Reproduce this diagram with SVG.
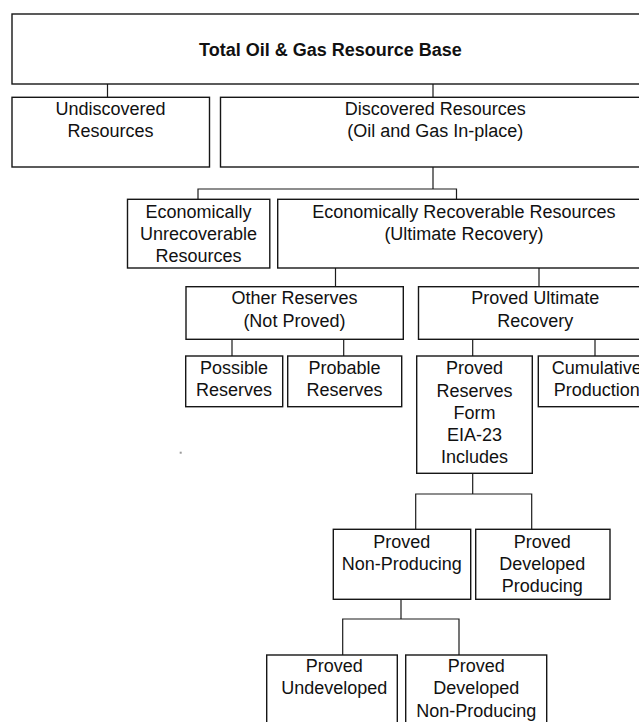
<svg xmlns="http://www.w3.org/2000/svg" width="639" height="722" viewBox="0 0 639 722">
<style>
.box{fill:#fff;stroke:#161616;stroke-width:1.4}
.c{fill:none;stroke:#1c1c1c;stroke-width:1.2}
text{font-family:"Liberation Sans",Arial,sans-serif;font-size:18px;fill:#111;text-anchor:middle}
.t{font-weight:bold;font-size:18px}
</style>
<rect width="639" height="722" fill="#fff"/>
<g id="connectors">
<path class="c" d="M107.5 84V97.3M433 84V97.3"/>
<path class="c" d="M433 167V189M198 199.3V189H456.5V199.3"/>
<path class="c" d="M335.5 268V286.7M539 268V286.7"/>
<path class="c" d="M232 339.3V356M343.7 339.3V356M472.7 339.3V356M595 339.3V356"/>
<path class="c" d="M472.7 473.3V494M415.7 529.3V494H531.7V529.3"/>
<path class="c" d="M401 599.3V619M342.7 655V619H459V655"/>
</g>
<g id="total"><rect class="box" x="12" y="14" width="648" height="70"/><text class="t" x="330.5" y="55.5">Total Oil &amp; Gas Resource Base</text></g>
<g id="undiscovered"><rect class="box" x="12" y="97.3" width="197.5" height="69.7"/><text x="110.5" y="115">Undiscovered</text><text x="110.5" y="137.3">Resources</text></g>
<g id="discovered"><rect class="box" x="220.5" y="97.3" width="440" height="69.7"/><text x="435.3" y="115">Discovered Resources</text><text x="435.3" y="137.3">(Oil and Gas In-place)</text></g>
<g id="econ-unrec"><rect class="box" x="127.5" y="199.3" width="142.3" height="68.7"/><text x="198.5" y="217.7">Economically</text><text x="198.5" y="239.5">Unrecoverable</text><text x="198.5" y="261.5">Resources</text></g>
<g id="econ-rec"><rect class="box" x="277.7" y="199.3" width="383" height="68.7"/><text x="463.9" y="217.7">Economically Recoverable Resources</text><text x="463.9" y="239.5">(Ultimate Recovery)</text></g>
<g id="other-reserves"><rect class="box" x="186" y="286.7" width="217.3" height="52.6"/><text x="294.4" y="304">Other Reserves</text><text x="294.4" y="326.5">(Not Proved)</text></g>
<g id="proved-ultimate"><rect class="box" x="418.5" y="286.7" width="242" height="52.6"/><text x="535.2" y="304">Proved Ultimate</text><text x="535.2" y="326.5">Recovery</text></g>
<g id="possible"><rect class="box" x="185.7" y="356" width="97" height="50.7"/><text x="234" y="374.4">Possible</text><text x="234" y="396.4">Reserves</text></g>
<g id="probable"><rect class="box" x="287.7" y="356" width="114" height="50.7"/><text x="344.5" y="374.4">Probable</text><text x="344.5" y="396.4">Reserves</text></g>
<g id="proved-reserves"><rect class="box" x="416.7" y="356" width="115.6" height="117.3"/><text x="474.5" y="374.4">Proved</text><text x="474.5" y="396.6">Reserves</text><text x="474.5" y="419">Form</text><text x="474.5" y="441.2">EIA-23</text><text x="474.5" y="463.4">Includes</text></g>
<g id="cumulative"><rect class="box" x="538.3" y="356" width="122" height="50.7"/><text x="596.7" y="374.4">Cumulative</text><text x="596.7" y="396.4">Production</text></g>
<g id="proved-non-producing"><rect class="box" x="333.3" y="529.3" width="137.4" height="70"/><text x="401.7" y="547.7">Proved</text><text x="401.7" y="570">Non-Producing</text></g>
<g id="proved-developed-producing"><rect class="box" x="475.7" y="529.3" width="134.3" height="70"/><text x="542.2" y="547.7">Proved</text><text x="542.2" y="570">Developed</text><text x="542.2" y="592.2">Producing</text></g>
<g id="proved-undeveloped"><rect class="box" x="266.7" y="655" width="130.6" height="90"/><text x="334.2" y="671.7">Proved</text><text x="334.2" y="694.3">Undeveloped</text></g>
<g id="proved-developed-non-producing"><rect class="box" x="405.7" y="655" width="141" height="90"/><text x="476.3" y="671.7">Proved</text><text x="476.3" y="694.3">Developed</text><text x="476.3" y="716.7">Non-Producing</text></g>
<rect x="179.7" y="451.7" width="2" height="2" fill="#9a9a9a"/>
</svg>
